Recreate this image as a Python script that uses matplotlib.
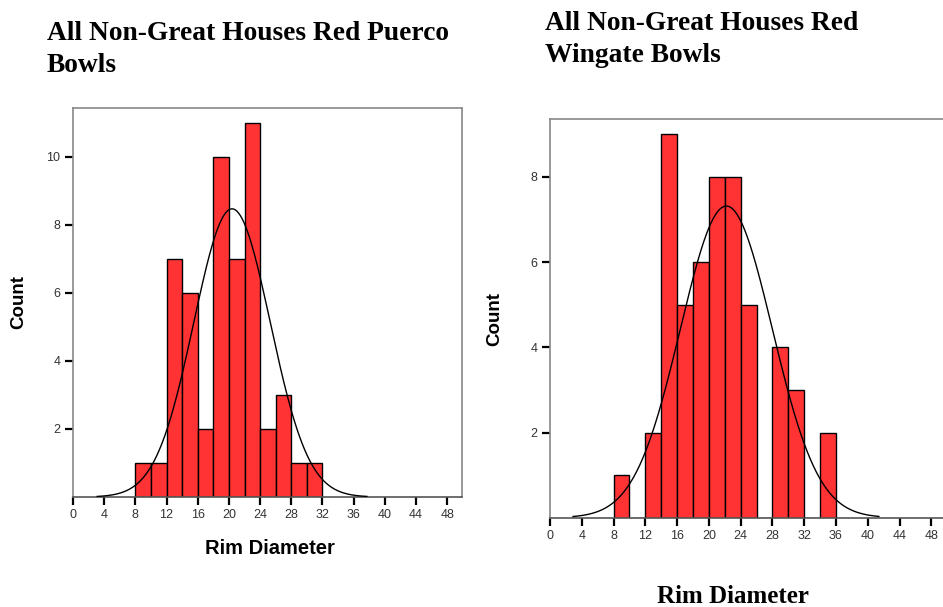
import matplotlib.pyplot as plt
import numpy as np

# bin edges (width 2) and counts
puerco_edges = np.arange(8, 34, 2)
puerco_counts = [1, 1, 7, 6, 2, 10, 7, 11, 2, 3, 1, 1]

wingate_edges = np.arange(8, 38, 2)
wingate_counts = [1, 0, 2, 9, 5, 6, 8, 8, 5, 0, 4, 3, 0, 2]

# fitted normal curves (mean, sd, drawn range)
puerco_fit = (20.4, 4.9, 3.1, 37.7)
wingate_fit = (22.2, 5.78, 2.9, 41.4)

xticks = list(range(0, 49, 4))

bar_color = '#ff3333'
sans = 'Liberation Sans'
serif = 'Liberation Serif'

fig = plt.figure(figsize=(9.43, 6.07), dpi=100)


def panel(rect, edges, counts, fit, ymax, yticks):
    ax = fig.add_axes(rect)
    ax.bar(edges[:-1], counts, width=2, align='edge', color=bar_color,
           edgecolor='black', linewidth=1.0, zorder=2)
    mu, sd, x0, x1 = fit
    n = sum(counts)
    xs = np.linspace(x0, x1, 300)
    ys = n * 2 / (sd * np.sqrt(2 * np.pi)) * np.exp(-0.5 * ((xs - mu) / sd) ** 2)
    ax.plot(xs, ys, color='black', linewidth=1.0, zorder=3)
    ax.set_xlim(0, 49.9)
    ax.set_ylim(0, ymax)
    ax.set_xticks(xticks)
    ax.set_yticks(yticks)
    ax.tick_params(direction='out', length=6, width=1.6, color='black',
                   labelsize=9, labelcolor='#333333', pad=3)
    for s in ax.spines.values():
        s.set_color('#888888')
        s.set_linewidth(1.2)
    ax.spines['bottom'].set_color('#555555')
    for lab in ax.get_xticklabels() + ax.get_yticklabels():
        lab.set_family(sans)
    return ax


ax1 = panel([73 / 943, 110 / 607, 389 / 943, 389 / 607],
            puerco_edges, puerco_counts, puerco_fit, 11.43, [2, 4, 6, 8, 10])
ax2 = panel([550 / 943, 89.3 / 607, 396.4 / 943, 398.7 / 607],
            wingate_edges, wingate_counts, wingate_fit, 9.36, [2, 4, 6, 8])

# titles
fig.text(47 / 943, 1 - 72 / 607, 'All Non-Great Houses Red Puerco\nBowls',
         family=serif, fontweight='bold', fontsize=19.8, ha='left',
         va='baseline', linespacing=1.38)
fig.text(545 / 943, 1 - 62 / 607, 'All Non-Great Houses Red\nWingate Bowls',
         family=serif, fontweight='bold', fontsize=19.8, ha='left',
         va='baseline', linespacing=1.38)

# axis labels
fig.text(19 / 943, 1 - 302 / 607, 'Count', family=sans, fontweight='bold',
         fontsize=13.5, rotation=90, ha='center', va='center')
fig.text(270 / 943, 1 - 549 / 607, 'Rim Diameter', family=sans,
         fontweight='bold', fontsize=14.5, ha='center', va='center')
fig.text(495 / 943, 1 - 319 / 607, 'Count', family=sans, fontweight='bold',
         fontsize=13.5, rotation=90, ha='center', va='center')
fig.text(733 / 943, 1 - 603 / 607, 'Rim Diameter', family=serif,
         fontweight='bold', fontsize=18, ha='center', va='baseline')

fig.savefig('out.png', dpi=100)
